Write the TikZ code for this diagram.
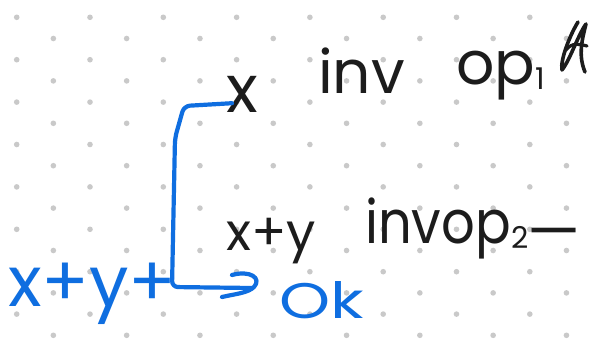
\documentclass[tikz,border=0pt]{standalone}
\usepackage{fontspec}
\setmainfont{Poppins}
\definecolor{ink}{HTML}{1C1C1C}
\definecolor{blueink}{HTML}{0F6EE0}
\definecolor{dotgray}{HTML}{C9C9C9}
\newcommand{\lowsub}[1]{\raisebox{-5pt}{\fontsize{30}{32}\selectfont #1}}
\begin{document}
\begin{tikzpicture}[x=1pt,y=-1pt,
  hw/.style={inner sep=0pt, anchor=base west, text=ink, font=\fontsize{60}{62}\selectfont},
  hwb/.style={hw, text=blueink},
  pen/.style={line width=4.2pt, line cap=round, line join=round}]
\useasboundingbox (0,0) rectangle (595,340);
\fill[white] (0,0) rectangle (595,340);
% dotted grid
\foreach \k in {0,...,15}{
  \foreach \m in {0,...,7}{
    \fill[dotgray] ({16.7+36.65*mod(\k,2)+73.3*\m},{17.3+21.2*\k}) circle (2.8);
  }
}
% first line
\node[hw, font=\fontsize{66}{68}\selectfont] (xtop) at (226,112) {x};
\node[hw] (inv1) at (318,93) {inv};
\node[hw] (op1) at (456,84) {op\lowsub{1}};
% scribble
\draw[pen, ink, line width=3.6pt] (578,22) .. controls (570,35) and (560,60) .. (562,70)
  .. controls (570,60) and (578,35) .. (586,24) .. controls (582,40) and (578,55) .. (585,72);
\draw[pen, ink, line width=3.2pt] (566,50) .. controls (572,42) and (580,44) .. (587,46);
% second line
\node[hw, font=\fontsize{52}{54}\selectfont] (xy) at (226,250) {x+y};
\node[hw] (inv2) at (365,243) {\scalebox{0.88}[1]{invop}\lowsub{2}};
\node[hw] (dash) at (527,252) {—};
% blue
\node[hwb, font=\fontsize{70}{72}\selectfont] (xyp) at (8,306) {x+y+};
\node[hwb, font=\fontsize{50}{52}\selectfont] (ok) at (279,318) {\scalebox{1.3}[1]{Ok}};
\coordinate (tip) at (252,288);
\draw[pen, blueink, rounded corners=6pt] ([shift={(6,-9)}]xtop.south west) -- (184,106) -- (175,138) -- (172,287) -- (tip);
\draw[pen, blueink] (232,275) .. controls (250,270) and (262,278) .. (254,287)
  .. controls (248,293) and (235,294) .. (222,297);
\end{tikzpicture}
\end{document}
